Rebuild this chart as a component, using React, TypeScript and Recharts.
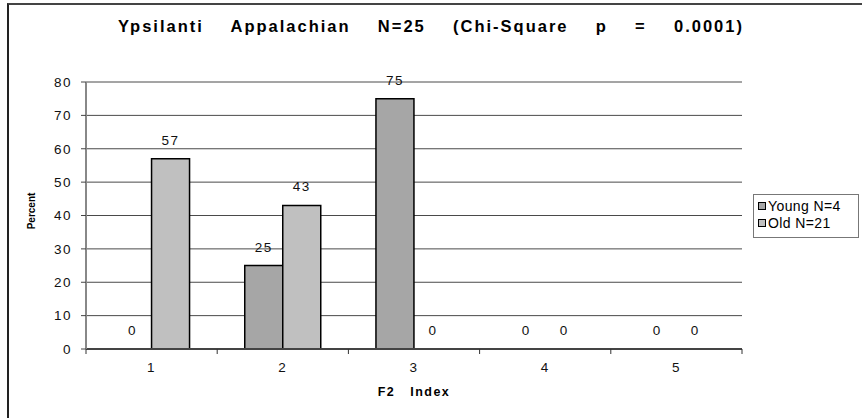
import {
	Bar,
	BarChart,
	CartesianGrid,
	LabelList,
	Rectangle,
	XAxis,
	YAxis,
} from "recharts"

const categories = ["1", "2", "3", "4", "5"]
const youngValues = [0, 25, 75, 0, 0]
const oldValues = [57, 43, 0, 0, 0]
const yTicks = [0, 10, 20, 30, 40, 50, 60, 70, 80]

const seriesInfo = [
	{ key: "young", name: "Young N=4", color: "#A6A6A6" },
	{ key: "old", name: "Old N=21", color: "#C0C0C0" },
]

const data = categories.map((c, i) => ({
	f2: c,
	young: youngValues[i],
	old: oldValues[i],
}))

const font = "'Liberation Sans', Arial, sans-serif"

function CategoryTick(props: any) {
	const { x, y, payload, index } = props
	const off = payload && payload.offset ? payload.offset : 65.6
	return (
		<g>
			<line x1={x - off} y1={y} x2={x - off} y2={y + 5} stroke="#333" />
			{index === categories.length - 1 && (
				<line x1={x + off} y1={y} x2={x + off} y2={y + 5} stroke="#333" />
			)}
			<text
				x={x}
				y={y + 23}
				textAnchor="middle"
				fontSize={13.5}
				fontFamily={font}
				fill="#111"
				letterSpacing={1.5}
			>
				{payload.value}
			</text>
		</g>
	)
}

// zero bars keep their label but draw no box
function BarShape(props: any) {
	if (!props.value) return <g />
	return <Rectangle {...props} />
}

function LegendBox() {
	return (
		<div
			style={{
				position: "absolute",
				left: 753,
				top: 194,
				width: 96,
				border: "1px solid #777",
				background: "#fff",
				padding: "2px 4px 6px 4px",
				fontFamily: font,
				fontSize: 14,
				color: "#000",
			}}
		>
			{seriesInfo.map((s) => (
				<div
					key={s.key}
					style={{ display: "flex", alignItems: "center", height: 17, whiteSpace: "pre" }}
				>
					<span
						style={{
							display: "inline-block",
							width: 6,
							height: 6,
							background: s.color,
							border: "1px solid #000",
							marginRight: 2,
						}}
					/>
					<span style={{ letterSpacing: 0.4 }}>{s.name}</span>
				</div>
			))}
		</div>
	)
}

export default function App() {
	return (
		<div
			style={{
				position: "absolute",
				left: 0,
				top: 0,
				width: 862,
				height: 418,
				overflow: "hidden",
				background: "#fff",
			}}
		>
			<BarChart
				width={862}
				height={418}
				data={data}
				margin={{ top: 82, right: 120, bottom: 39, left: 46 }}
				barCategoryGap="21%"
				barGap={0}
			>
				<text
					x={431}
					y={32}
					textAnchor="middle"
					fontFamily={font}
					fontWeight="bold"
					fontSize={16.5}
					fill="#000"
					letterSpacing={2}
					wordSpacing={2.5}
					style={{ whiteSpace: "pre" }}
				>
					{"Ypsilanti   Appalachian   N=25   (Chi-Square   p   =   0.0001)"}
				</text>
				<text
					x={414}
					y={396}
					textAnchor="middle"
					fontFamily={font}
					fontWeight="bold"
					fontSize={12.5}
					fill="#000"
					letterSpacing={1.5}
					style={{ whiteSpace: "pre" }}
				>
					{"F2   Index"}
				</text>
				<text
					x={35}
					y={211}
					textAnchor="middle"
					fontFamily={font}
					fontWeight="bold"
					fontSize={10}
					fill="#000"
					transform="rotate(-90 35 211)"
				>
					Percent
				</text>
				<CartesianGrid vertical={false} stroke="#4a4a4a" />
				<XAxis
					dataKey="f2"
					height={30}
					tickLine={false}
					tickSize={0}
					tickMargin={0}
					axisLine={{ stroke: "#444", strokeWidth: 2 }}
					tick={<CategoryTick />}
				/>
				<YAxis
					width={40}
					domain={[0, 80]}
					ticks={yTicks}
					interval={0}
					tickSize={5}
					tickMargin={9}
					axisLine={{ stroke: "#888", strokeWidth: 2 }}
					tickLine={{ stroke: "#444" }}
					tick={{ fontSize: 13.5, fontFamily: font, fill: "#111", letterSpacing: 1.5 }}
				/>
				<YAxis
					yAxisId="frame"
					orientation="right"
					width={0}
					tick={false}
					tickLine={false}
					axisLine={{ stroke: "#888", strokeWidth: 2 }}
				/>
				{seriesInfo.map((s) => (
					<Bar
						key={s.key}
						dataKey={s.key}
						name={s.name}
						fill={s.color}
						stroke="#000"
						strokeWidth={1.5}
						minPointSize={0.01}
						shape={<BarShape />}
						isAnimationActive={false}
					>
						<LabelList
							dataKey={s.key}
							position="top"
							offset={14}
							fontSize={13.5}
							fontFamily={font}
							fill="#111"
							letterSpacing={1.5}
						/>
					</Bar>
				))}
			</BarChart>
			<LegendBox />
			<div
				style={{
					position: "absolute",
					left: 7,
					top: 3,
					width: 900,
					height: 500,
					borderLeft: "2px solid #222",
					borderTop: "2px solid #444",
					pointerEvents: "none",
				}}
			/>
		</div>
	)
}
